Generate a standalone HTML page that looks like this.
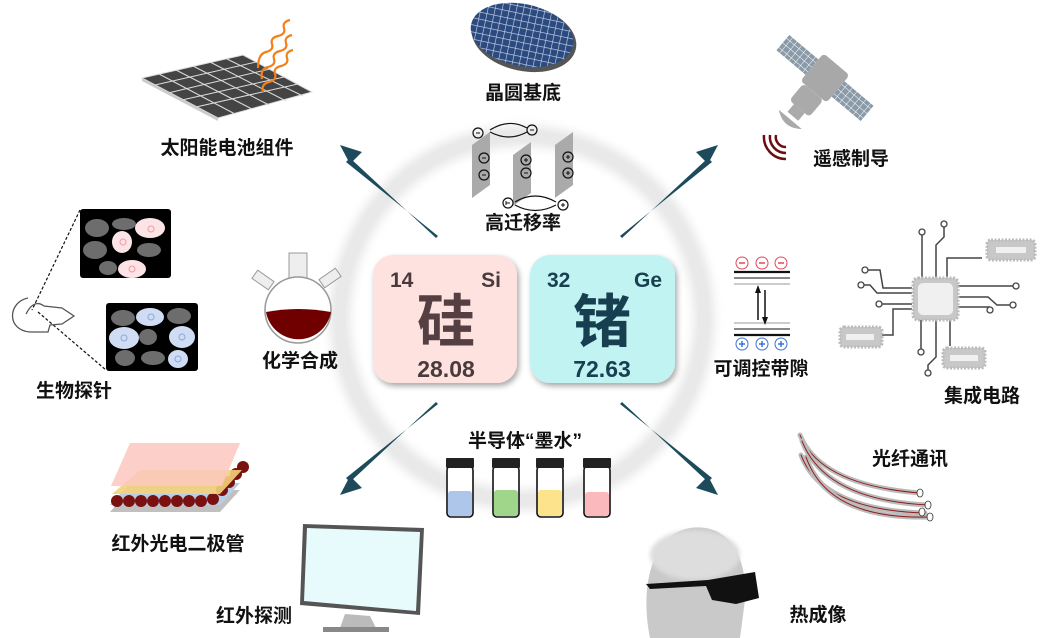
<!DOCTYPE html>
<html><head><meta charset="utf-8"><style>
html,body{margin:0;padding:0;background:#fff;}
svg{display:block;}
text{font-family:"Liberation Sans","Noto Sans CJK SC",sans-serif;}
.lb{font-size:19px;font-weight:bold;fill:#111;text-anchor:middle;font-family:"Liberation Sans","Noto Sans CJK SC",sans-serif;}
</style></head><body>
<svg width="1045" height="638" viewBox="0 0 1045 638" xmlns="http://www.w3.org/2000/svg">
<defs>
<filter id="blur4"><feGaussianBlur stdDeviation="5"/></filter>
<filter id="sh" x="-20%" y="-20%" width="140%" height="140%"><feDropShadow dx="2" dy="3" stdDeviation="3" flood-color="#000" flood-opacity="0.35"/></filter>
<filter id="gl"><feGaussianBlur stdDeviation="2"/></filter>
<pattern id="grid" width="7" height="7" patternUnits="userSpaceOnUse"><rect width="7" height="7" fill="#2b4a80"/><path d="M0 0H7M0 0V7" stroke="#cfd9ea" stroke-width="1.2"/></pattern>
<pattern id="sp" width="6" height="6" patternUnits="userSpaceOnUse"><rect width="6" height="6" fill="#8a9aa8"/><path d="M0 0H6M0 0V6" stroke="#fff" stroke-width="1"/></pattern>
</defs>

<circle cx="522" cy="318" r="182" fill="none" stroke="#e6e6e6" stroke-width="20" filter="url(#blur4)"/>
<circle cx="522" cy="318" r="182" fill="none" stroke="#e9e9e9" stroke-width="8"/>

<g fill="#1d4b5c">
<polygon points="438,236 436,238 350,158 346,162"/>
<polygon points="340,145 362,152 350,164"/>
<polygon points="620,236 622,238 708,158 712,162"/>
<polygon points="718,145 696,152 708,164"/>
<polygon points="438,404 436,402 350,482 346,478"/>
<polygon points="340,495 362,488 350,476"/>
<polygon points="620,404 622,402 708,482 712,478"/>
<polygon points="718,495 696,488 708,476"/>
</g>

<g filter="url(#sh)">
<rect x="373" y="255" width="144" height="128" rx="20" fill="#fde2df"/>
<rect x="530" y="255" width="145" height="128" rx="20" fill="#c2f3f3"/>
</g>
<text x="390" y="287" font-size="21" font-weight="bold" fill="#4a3a3c">14</text>
<text x="501" y="287" font-size="21" font-weight="bold" fill="#4a3a3c" text-anchor="end">Si</text>
<text x="446" y="342" font-size="58" font-weight="bold" fill="#553f43" text-anchor="middle" font-family="Noto Sans CJK SC,sans-serif">硅</text>
<text x="446" y="377" font-size="23" font-weight="bold" fill="#4a3a3c" text-anchor="middle">28.08</text>
<text x="547" y="287" font-size="21" font-weight="bold" fill="#173f50">32</text>
<text x="662" y="287" font-size="21" font-weight="bold" fill="#173f50" text-anchor="end">Ge</text>
<text x="602" y="342" font-size="58" font-weight="bold" fill="#173f50" text-anchor="middle" font-family="Noto Sans CJK SC,sans-serif">锗</text>
<text x="602" y="377" font-size="23" font-weight="bold" fill="#173f50" text-anchor="middle">72.63</text>

<polygon points="142,78 243,55 312,92 218,118" fill="#444" stroke="#ddd" stroke-width="1"/>
<g stroke="#ddd" stroke-width="1" fill="none">
<path d="M159,74 L235,114 M176,70 L252,109 M193,66 L269,105 M210,62 L286,101 M227,59 L303,96"/>
<path d="M155,85 L256,62 M168,93 L270,69 M182,100 L284,77 M196,107 L298,84"/>
</g>
<polygon points="142,78 218,118 218,121 142,81" fill="#ccc"/>
<g stroke="#f57f17" stroke-width="2.2" fill="none">
<path d="M290,20 q-8,2 -6,8 t-6,8 t-6,8 t-6,8 t-8,16"/>
<path d="M292,35 q-8,2 -6,8 t-6,8 t-6,8 t-6,8 t-6,12"/>
<path d="M293,50 q-8,2 -6,8 t-6,8 t-6,8 t-6,8 t-6,10"/>
</g>
<text class="lb" x="227" y="154">太阳能电池组件</text>

<ellipse cx="524" cy="38" rx="53" ry="33" fill="#555" transform="rotate(12 524 38)"/>
<ellipse cx="522" cy="35" rx="52" ry="31" fill="url(#grid)" transform="rotate(12 522 35)"/>
<text class="lb" x="523" y="99">晶圆基底</text>

<g fill="#aaa">
<polygon points="472,145 490,132 490,185 472,198"/>
<polygon points="513,155 531,142 531,193 513,206"/>
<polygon points="555,145 573,132 573,185 555,198"/>
</g>
<g fill="none" stroke="#111" stroke-width="1.2">
<circle cx="478" cy="133" r="5"/><circle cx="532" cy="130" r="5"/>
<circle cx="484" cy="158" r="5"/><circle cx="484" cy="175" r="5"/>
<circle cx="526" cy="160" r="5"/><circle cx="526" cy="173" r="5"/>
<circle cx="568" cy="157" r="5"/><circle cx="568" cy="173" r="5"/>
<circle cx="508" cy="203" r="5"/><circle cx="563" cy="205" r="5"/>
<path d="M490,130 Q509,118 527,128 M490,132 Q509,142 527,132"/>
<path d="M515,202 Q535,190 556,202 M515,205 Q535,216 556,205"/>
</g>
<g stroke="#111" stroke-width="1"><path d="M476,133h4M530,130h4M482,158h4M482,175h4M524,173h4M506,203h4M506,201v4M524,160h4M526,158v4M566,157h4M568,155v4M566,173h4M568,171v4M561,205h4M563,203v4"/></g>
<text class="lb" x="523" y="229">高迁移率</text>

<g transform="rotate(40 825 78)">
<rect x="770" y="68" width="38" height="20" fill="url(#sp)"/>
<rect x="842" y="68" width="38" height="20" fill="url(#sp)"/>
<rect x="808" y="60" width="34" height="36" rx="4" fill="#a8a8a8"/>
<rect x="812" y="96" width="26" height="22" rx="4" fill="#aaa"/>
<rect x="818" y="118" width="14" height="10" fill="#aaa"/>
<path d="M810,132 Q825,144 840,132 Z" fill="#aaa"/>
</g>
<g fill="none" stroke="#6b0e0e" stroke-width="2.5">
<path d="M776,135 a10,10 0 0 0 10,12"/>
<path d="M770,135 a16,16 0 0 0 16,18"/>
<path d="M764,135 a22,22 0 0 0 22,24"/>
</g>
<text class="lb" x="851" y="165">遥感制导</text>

<rect x="80" y="209" width="91" height="69" rx="3" fill="#000"/>
<rect x="106" y="303" width="92" height="68" rx="3" fill="#000"/>
<g fill="#6d6d6d">
<ellipse cx="97" cy="228" rx="12" ry="9"/><ellipse cx="124" cy="224" rx="12" ry="6"/><ellipse cx="95" cy="250" rx="12" ry="9"/><ellipse cx="149" cy="250" rx="12" ry="7"/><ellipse cx="108" cy="268" rx="9" ry="7"/>
<ellipse cx="123" cy="318" rx="12" ry="8"/><ellipse cx="179" cy="316" rx="12" ry="8"/><ellipse cx="148" cy="337" rx="9" ry="8"/><ellipse cx="125" cy="358" rx="10" ry="8"/><ellipse cx="153" cy="358" rx="12" ry="7"/>
</g>
<g fill="#fbe3e6"><ellipse cx="150" cy="228" rx="15" ry="10"/><ellipse cx="122" cy="242" rx="10" ry="11"/><ellipse cx="132" cy="269" rx="14" ry="9"/></g>
<g fill="#cfdcf3"><ellipse cx="150" cy="317" rx="14" ry="9"/><ellipse cx="124" cy="338" rx="15" ry="11"/><ellipse cx="182" cy="337" rx="13" ry="11"/><ellipse cx="178" cy="359" rx="10" ry="9"/></g>
<g fill="none" stroke="#f39aa3"><circle cx="151" cy="229" r="3"/><circle cx="123" cy="242" r="3"/><circle cx="132" cy="269" r="3"/></g>
<g fill="none" stroke="#8fa8d8"><circle cx="151" cy="317" r="3"/><circle cx="124" cy="338" r="3"/><circle cx="182" cy="337" r="3"/><circle cx="178" cy="359" r="3"/></g>
<path d="M80,210 L32,310 M38,312 L106,370" stroke="#111" stroke-width="1.2" stroke-dasharray="3,2" fill="none"/>
<path d="M28,298 C8,302 6,330 30,332 L48,332 L50,325 L62,324 L74,316 L62,308 L44,306 C36,300 30,306 26,314" fill="none" stroke="#555" stroke-width="1.3"/>
<text class="lb" x="74" y="397">生物探针</text>

<rect x="289" y="253" width="18" height="28" fill="#eee" stroke="#999"/>
<rect x="253" y="275" width="20" height="10" fill="#eee" stroke="#999" transform="rotate(35 263 280)"/>
<rect x="320" y="273" width="20" height="10" fill="#eee" stroke="#999" transform="rotate(-35 330 278)"/>
<circle cx="298" cy="310" r="33" fill="#fff" stroke="#999" stroke-width="1.5"/>
<path d="M266,312 Q298,306 331,312 A33,33 0 0 1 266,312 Z" fill="#700000"/>
<text class="lb" x="300" y="367">化学合成</text>

<g fill="none" stroke="#e5475a"><circle cx="742" cy="263" r="6"/><circle cx="762" cy="263" r="6"/><circle cx="781" cy="263" r="6"/></g>
<path d="M739,263h6M759,263h6M778,263h6" stroke="#e5475a" stroke-width="1.5"/>
<path d="M734,272h56" stroke="#111" stroke-width="2.2"/><path d="M734,278h56" stroke="#888" stroke-width="2"/><path d="M734,284h56" stroke="#bbb" stroke-width="1.6"/>
<path d="M734,323h56" stroke="#bbb" stroke-width="1.6"/><path d="M734,329h56" stroke="#888" stroke-width="2"/><path d="M734,335h56" stroke="#111" stroke-width="2.2"/>
<path d="M758,320V290M765,290V320" stroke="#111" stroke-width="1.5"/>
<polygon points="758,285 755,293 761,293" fill="#111"/><polygon points="765,325 762,317 768,317" fill="#111"/>
<g fill="none" stroke="#3a74d6"><circle cx="742" cy="344" r="6"/><circle cx="762" cy="344" r="6"/><circle cx="781" cy="344" r="6"/></g>
<path d="M739,344h6M742,341v6M759,344h6M762,341v6M778,344h6M781,341v6" stroke="#3a74d6" stroke-width="1.5"/>
<text class="lb" x="761" y="375">可调控带隙</text>

<g stroke="#444" stroke-width="1.5" fill="none">
<path d="M922,278V232M936,278V245L944,237V224M947,278V258H982M912,288H883L880,270H866M912,293H877L870,285H861M912,304H879M912,309H893V335H882M951,286H1016M951,297H988L997,305H1012M951,307H990M921,320V352M936,320V357L928,365V373M950,320V346"/>
</g>
<g fill="#fff" stroke="#444" stroke-width="1.3">
<circle cx="922" cy="232" r="3"/><circle cx="944" cy="224" r="3"/><circle cx="865" cy="270" r="3"/><circle cx="861" cy="285" r="3"/><circle cx="879" cy="304" r="3"/><circle cx="1016" cy="286" r="3"/><circle cx="1013" cy="305" r="3"/><circle cx="990" cy="310" r="3"/><circle cx="921" cy="352" r="3"/><circle cx="928" cy="373" r="3"/>
</g>
<rect x="913" y="278" width="45" height="42" rx="5" fill="#c8c8c8" stroke="#bbb" stroke-width="3" stroke-dasharray="2,1.5"/>
<rect x="918" y="283" width="35" height="32" rx="5" fill="#f0f0f0"/>
<g fill="#c8c8c8" stroke="#bbb" stroke-width="3" stroke-dasharray="2,1.5">
<rect x="987" y="240" width="48" height="20" rx="4"/><rect x="840" y="327" width="42" height="20" rx="4"/><rect x="943" y="348" width="42" height="20" rx="4"/>
</g>
<g fill="#f0f0f0"><rect x="996" y="247" width="30" height="6"/><rect x="846" y="334" width="28" height="6"/><rect x="950" y="355" width="28" height="6"/></g>
<text class="lb" x="982" y="402">集成电路</text>

<g stroke="#111" stroke-width="1.6">
<rect x="447" y="466" width="26" height="51" rx="4" fill="#fff"/><rect x="493" y="466" width="26" height="51" rx="4" fill="#fff"/><rect x="537" y="466" width="26" height="51" rx="4" fill="#fff"/><rect x="584" y="466" width="26" height="51" rx="4" fill="#fff"/>
</g>
<g fill="#222"><rect x="446" y="458" width="28" height="10" rx="1"/><rect x="492" y="458" width="28" height="10" rx="1"/><rect x="536" y="458" width="28" height="10" rx="1"/><rect x="583" y="458" width="28" height="10" rx="1"/></g>
<rect x="448" y="491" width="24" height="25" rx="3" fill="#aec6ea"/>
<rect x="494" y="490" width="24" height="26" rx="3" fill="#9fd68a"/>
<rect x="538" y="490" width="24" height="26" rx="3" fill="#fde48c"/>
<rect x="585" y="492" width="24" height="24" rx="3" fill="#fbb9bd"/>
<text class="lb" x="525" y="447">半导体“墨水”</text>

<g fill="none" stroke-linecap="round">
<path d="M800,435 Q820,485 920,493" stroke="#bbb" stroke-width="5"/><path d="M800,435 Q820,485 920,493" stroke="#8b1a1a" stroke-width="1"/>
<path d="M802,441 Q825,500 928,505" stroke="#bbb" stroke-width="5"/><path d="M802,441 Q825,500 928,505" stroke="#8b1a1a" stroke-width="1"/>
<path d="M801,455 Q822,510 925,513" stroke="#bbb" stroke-width="5"/><path d="M801,455 Q822,510 925,513" stroke="#8b1a1a" stroke-width="1"/>
<path d="M806,457 Q828,520 930,517" stroke="#bbb" stroke-width="5"/><path d="M806,457 Q828,520 930,517" stroke="#8b1a1a" stroke-width="1"/>
</g>
<g fill="#fff" stroke="#333" stroke-width="0.8"><ellipse cx="920" cy="493" rx="3" ry="4"/><ellipse cx="928" cy="505" rx="3" ry="4"/><ellipse cx="922" cy="512" rx="3" ry="4"/><ellipse cx="930" cy="517" rx="3" ry="4"/></g>
<text class="lb" x="910" y="465">光纤通讯</text>

<polygon points="110,512 220,512 240,490 130,490" fill="#c0c0c0"/>
<polygon points="110,505 220,505 240,483 130,483" fill="#b9cde8"/>
<g fill="#7a1010">
<circle cx="117" cy="501" r="6"/><circle cx="129" cy="501" r="6"/><circle cx="141" cy="501" r="6"/><circle cx="153" cy="501" r="6"/><circle cx="165" cy="501" r="6"/><circle cx="177" cy="501" r="6"/><circle cx="189" cy="501" r="6"/><circle cx="201" cy="501" r="6"/><circle cx="213" cy="499" r="6"/><circle cx="222" cy="490" r="6"/><circle cx="229" cy="482" r="6"/><circle cx="236" cy="474" r="6"/><circle cx="243" cy="467" r="6"/>
</g>
<polygon points="112,494 220,494 242,470 140,470" fill="#f4d27a" opacity="0.9"/>
<polygon points="111,486 222,486 240,443 130,443" fill="#fbc8c0" opacity="0.85"/>
<text class="lb" x="178" y="550">红外光电二极管</text>

<polygon points="303,524 424,528 420,615 300,605" fill="#555"/>
<polygon points="307,528 420,532 416,611 304,601" fill="#e8fbfc"/>
<polygon points="345,614 370,616 376,628 340,628" fill="#bbb"/>
<rect x="323" y="627" width="66" height="5" fill="#888"/>
<text class="lb" x="254" y="622">红外探测</text>

<path d="M650,638 C640,590 650,535 690,528 C730,522 748,560 745,600 L740,638 Z" fill="#c9c9c9"/>
<ellipse cx="695" cy="555" rx="45" ry="25" fill="#ddd" filter="url(#gl)"/>
<path d="M646,584 L708,580 L755,572 L759,598 L736,604 L712,600 L706,586 L650,589 Z" fill="#111"/>
<text class="lb" x="818" y="621">热成像</text>
</svg>
</body></html>
